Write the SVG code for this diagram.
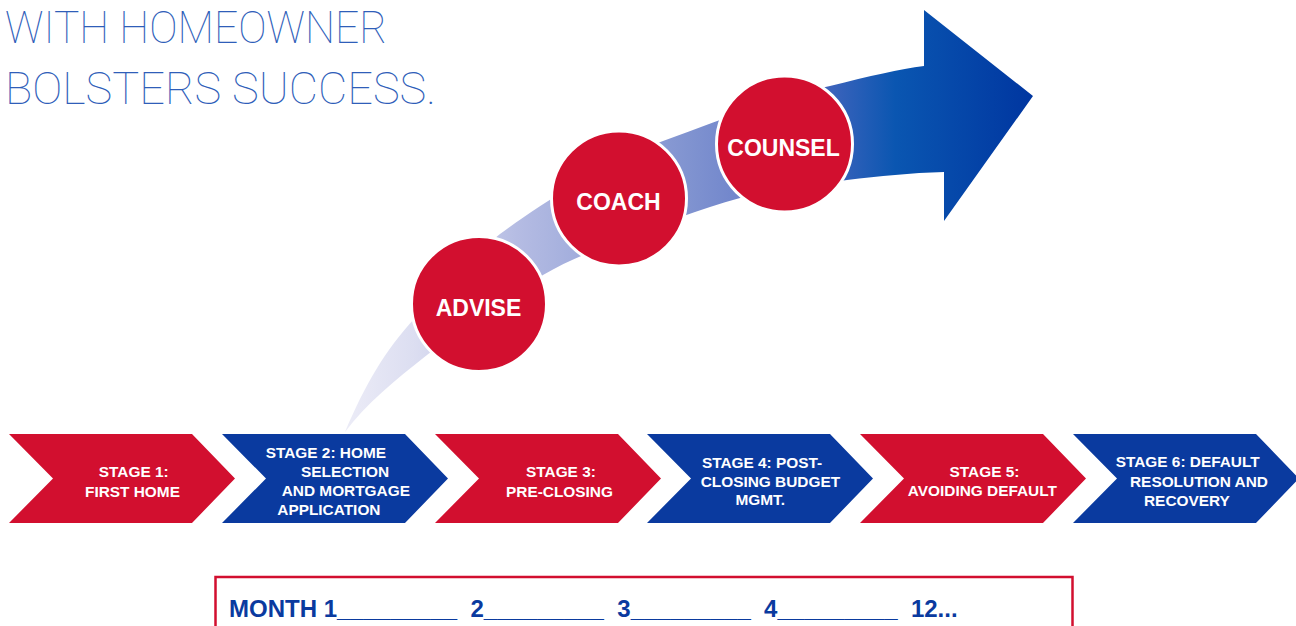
<svg xmlns="http://www.w3.org/2000/svg" width="1296" height="626" viewBox="0 0 1296 626">
<style>
.title{font-family:Roboto,"Liberation Sans",sans-serif;font-weight:100;font-size:45px;fill:#2F5EB9}
.stg{font-family:"Liberation Sans",Arial,sans-serif;font-weight:bold;font-size:15.4px;fill:#ffffff}
.red{fill:#D20F2F}
.blue{fill:#0A3A9F}
.circ{fill:#D20F2F;stroke:#ffffff;stroke-width:3}
.clbl{font-family:"Liberation Sans",Arial,sans-serif;font-weight:bold;font-size:23px;fill:#ffffff;text-anchor:middle}
.month{font-family:"Liberation Sans",Arial,sans-serif;font-weight:bold;font-size:24px;fill:#0A3A9F}
</style>
<defs>
<linearGradient id="sweep" gradientUnits="userSpaceOnUse" x1="345" y1="0" x2="1033" y2="0">
<stop offset="0" stop-color="#ECECF7"/>
<stop offset="0.1" stop-color="#DCDEF1"/>
<stop offset="0.25" stop-color="#B5BCE3"/>
<stop offset="0.5" stop-color="#8093D0"/>
<stop offset="0.58" stop-color="#6F84CB"/>
<stop offset="0.7" stop-color="#3F64BC"/>
<stop offset="0.8" stop-color="#0A56B1"/>
<stop offset="1" stop-color="#0036A0"/>
</linearGradient>
</defs>

<g id="title">
<text class="title" x="5" y="43" textLength="382" lengthAdjust="spacingAndGlyphs">WITH HOMEOWNER</text>
<text class="title" x="5" y="104" textLength="431" lengthAdjust="spacingAndGlyphs">BOLSTERS SUCCESS.</text>
</g>

<g id="connectors">
<path id="sweep-arrow" fill="url(#sweep)" d="M345,432 C365,385 385,350 415,318 C440,290 470,258 500,234 C540,205 600,165 663,141 C720,120 780,97 830,86 C870,76 900,69 924,66 L924,10 L1033,96 L944,221 L944,172 C910,173 880,176 847,180 C810,185 770,190 740,198 C700,209 660,224 620,240 C590,252 565,262 543,275 C500,300 460,330 427,355 C395,380 365,405 345,432 Z"/>
</g>

<g id="advise">
<circle class="circ" cx="479" cy="304" r="67.5"/>
<text class="clbl" x="478.5" y="316">ADVISE</text>
</g>
<g id="coach">
<circle class="circ" cx="619" cy="198.5" r="67.5"/>
<text class="clbl" x="618.5" y="209.5">COACH</text>
</g>
<g id="counsel">
<circle class="circ" cx="784.5" cy="144" r="68"/>
<text class="clbl" x="783.5" y="155.5">COUNSEL</text>
</g>

<g id="stage1">
<polygon class="red" points="9,434 192,434 235,478.5 192,523 9,523 53,478.5"/>
<text class="stg" x="98.8" y="476.7">STAGE 1:</text>
<text class="stg" x="85" y="496.7">FIRST HOME</text>
</g>
<g id="stage2">
<polygon class="blue" points="222,434 405,434 448,478.5 405,523 222,523 266,478.5"/>
<text class="stg" x="265.7" y="458">STAGE 2: HOME</text>
<text class="stg" x="301" y="476.5">SELECTION</text>
<text class="stg" x="281.7" y="496.3">AND MORTGAGE</text>
<text class="stg" x="277.3" y="515">APPLICATION</text>
</g>
<g id="stage3">
<polygon class="red" points="435,434 618,434 661,478.5 618,523 435,523 479,478.5"/>
<text class="stg" x="526" y="476.7">STAGE 3:</text>
<text class="stg" x="506" y="496.7">PRE-CLOSING</text>
</g>
<g id="stage4">
<polygon class="blue" points="647,434 830,434 873,478.5 830,523 647,523 691,478.5"/>
<text class="stg" x="701.9" y="467.7">STAGE 4: POST-</text>
<text class="stg" x="700.7" y="486.7">CLOSING BUDGET</text>
<text class="stg" x="735.4" y="505">MGMT.</text>
</g>
<g id="stage5">
<polygon class="red" points="860,434 1043,434 1086,478.5 1043,523 860,523 904,478.5"/>
<text class="stg" x="949.6" y="476.7">STAGE 5:</text>
<text class="stg" x="907.8" y="496">AVOIDING DEFAULT</text>
</g>
<g id="stage6">
<polygon class="blue" points="1073,434 1256,434 1299,478.5 1256,523 1073,523 1117,478.5"/>
<text class="stg" x="1115.7" y="467.3">STAGE 6: DEFAULT</text>
<text class="stg" x="1130" y="486.7">RESOLUTION AND</text>
<text class="stg" x="1144" y="505.7">RECOVERY</text>
</g>

<g id="timeline">
<rect x="215.5" y="577" width="857" height="60" fill="none" stroke="#D20F2F" stroke-width="2.5"/>
<text class="month" x="229" y="617">MONTH 1_________&#160;&#160;2_________&#160;&#160;3_________&#160;&#160;4_________&#160;&#160;12...</text>
</g>
</svg>
